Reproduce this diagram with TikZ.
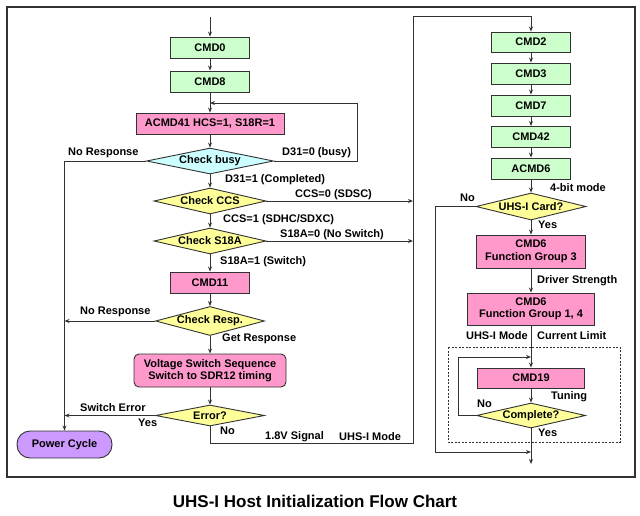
\documentclass[tikz,border=0pt]{standalone}
\usepackage{fontspec}
\setmainfont{Liberation Sans}
\usetikzlibrary{shapes.geometric,arrows.meta}

\definecolor{cmdgreen}{RGB}{204,255,204}
\definecolor{cmdpink}{RGB}{255,153,204}
\definecolor{askyellow}{RGB}{255,255,153}
\definecolor{askcyan}{RGB}{204,255,255}
\definecolor{pwrpurple}{RGB}{204,153,255}
\definecolor{linegray}{RGB}{50,50,50}

\tikzset{
  cmdbox/.style={draw=linegray, fill=cmdgreen, line width=0.9pt, inner sep=0pt,
    minimum width=79pt, minimum height=21pt},
  hostbox/.style={cmdbox, fill=cmdpink, align=center},
  decision/.style={diamond, aspect=4, draw=linegray, fill=askyellow, line width=0.9pt,
    inner sep=0pt, minimum width=110pt, minimum height=26pt},
  lbl/.style={inner sep=0pt, anchor=west},
  flow/.style={draw=linegray, line width=0.9pt}
}

\begin{document}
\begin{tikzpicture}[
  x=1pt, y=-1pt,
  >={Stealth[length=5pt,width=4pt]},
  font=\fontsize{11}{12.5}\selectfont\bfseries
]
  \useasboundingbox (0,0) rectangle (640,515);
  \draw[linegray, line width=1.2pt] (7,7) rectangle (635,477);

  % Left column: start, voltage switch request
  \coordinate (start) at (210,17);
  \node[cmdbox] (cmd0) at (210,47.5) {CMD0};
  \node[cmdbox] (cmd8) at (210,81.5) {CMD8};
  \coordinate (busyloop) at (210,103);
  \node[hostbox, minimum width=148pt] (acmd41) at (210,123.5) {ACMD41 HCS=1, S18R=1};
  \node[decision, fill=askcyan, minimum width=127pt] (busy) at (210,161) {Check busy};
  \node[decision, minimum width=112pt] (ccs) at (210,201) {Check CCS};
  \node[decision, minimum width=112pt] (s18a) at (210,241) {Check S18A};
  \node[hostbox] (cmd11) at (210,282.5) {CMD11};
  \node[decision, minimum width=109pt, minimum height=29pt] (resp) at (210,321) {Check Resp.};
  \node[hostbox, rounded corners=5pt, minimum width=152pt, minimum height=33pt] (vss) at (210,370.5)
    {Voltage Switch Sequence\\Switch to SDR12 timing};
  \node[decision, minimum width=109pt, minimum height=21pt] (err) at (210,415.5) {Error?};
  \node[draw=linegray, fill=pwrpurple, line width=0.9pt, rounded corners=13pt,
    minimum width=95pt, minimum height=27pt, inner sep=0pt] (power) at (64.5,444.5) {Power Cycle};

  % Right column: card identification and UHS-I setup
  \coordinate (rtop) at (413,16);
  \coordinate (rbot) at (413,443);
  \node[cmdbox, minimum height=20pt] (cmd2) at (531,42) {CMD2};
  \node[cmdbox] (cmd3) at (531,73.5) {CMD3};
  \node[cmdbox] (cmd7) at (531,105.5) {CMD7};
  \node[cmdbox] (cmd42) at (531,137) {CMD42};
  \node[cmdbox] (acmd6) at (531,168.5) {ACMD6};
  \node[decision, minimum height=27pt] (uhs) at (531,206.5) {UHS-I Card?};
  \node[hostbox, minimum width=109pt, minimum height=33pt] (fg3) at (531,251.5) {CMD6\\Function Group 3};
  \node[hostbox, minimum width=127pt, minimum height=32pt] (fg14) at (531,309) {CMD6\\Function Group 1, 4};
  \draw[linegray, line width=0.8pt, dash pattern=on 2pt off 1.5pt] (448,347) rectangle (620,442);
  \coordinate (tuneloop) at (531,357);
  \node[hostbox, minimum width=107pt, minimum height=20pt] (cmd19) at (531,378) {CMD19};
  \node[decision, minimum width=109pt, minimum height=25pt] (comp) at (531,415.5) {Complete?};
  \coordinate (skip) at (531,452);
  \coordinate (finish) at (531,464);

  % connectors, left
  \draw[flow,->] (start) -- (cmd0);
  \draw[flow,->] (cmd0) -- (cmd8);
  \draw[flow,->] (cmd8) -- (acmd41);
  \draw[flow,->] (acmd41) -- (busy);
  \draw[flow,->] (busy.east) -- ++(83,0) |- (busyloop);
  \draw[flow,->] (busy.west) -| (power.north);
  \draw[flow,->] (busy) -- (ccs);
  \draw[flow,->] (ccs.east) -- (ccs.east -| rtop);
  \draw[flow,->] (ccs) -- (s18a);
  \draw[flow,->] (s18a.east) -- (s18a.east -| rtop);
  \draw[flow,->] (s18a) -- (cmd11);
  \draw[flow,->] (cmd11) -- (resp);
  \draw[flow,->] (resp.west) -- (resp.west -| power.north);
  \draw[flow,->] (resp) -- (vss);
  \draw[flow,->] (vss) -- (err);
  \draw[flow,->] (err.west) -- (err.west -| power.north);
  \draw[flow,->] (err.south) |- (rbot) -- (rtop) -| (cmd2.north);

  % connectors, right
  \draw[flow,->] (cmd2) -- (cmd3);
  \draw[flow,->] (cmd3) -- (cmd7);
  \draw[flow,->] (cmd7) -- (cmd42);
  \draw[flow,->] (cmd42) -- (acmd6);
  \draw[flow,->] (acmd6) -- (uhs);
  \draw[flow,->] (uhs) -- (fg3);
  \draw[flow,->] (fg3) -- (fg14);
  \draw[flow,->] (fg14) -- (cmd19);
  \draw[flow,->] (cmd19) -- (comp);
  \draw[flow,->] (comp.west) -- ++(-18,0) |- (tuneloop);
  \draw[flow,->] (uhs.west) -- ++(-40,0) |- (skip);
  \draw[flow,->] (comp) -- (finish);

  % labels
  \node[lbl] (nrbusy) at (68,153) {No Response};
  \node[lbl] (lbusy) at (282,153) {D31=0 (busy)};
  \node[lbl] (ldone) at (225,180) {D31=1 (Completed)};
  \node[lbl] (lsdsc) at (295,195) {CCS=0 (SDSC)};
  \node[lbl] (lsdhc) at (223,220) {CCS=1 (SDHC/SDXC)};
  \node[lbl] (lnosw) at (280,235) {S18A=0 (No Switch)};
  \node[lbl] (lsw) at (220,262) {S18A=1 (Switch)};
  \node[lbl] (nrresp) at (80,312) {No Response};
  \node[lbl] (lget) at (222,339) {Get Response};
  \node[lbl] (lswerr) at (80,408) {Switch Error};
  \node[lbl] (lerryes) at (138,423) {Yes};
  \node[lbl] (lerrno) at (220,431) {No};
  \node[lbl] (lsig) at (265,437) {1.8V Signal};
  \node[lbl] (lmode) at (339,437) {UHS-I Mode};
  \node[lbl] (lbit) at (550,188) {4-bit mode};
  \node[lbl] (luhsno) at (460,198) {No};
  \node[lbl] (luhsyes) at (538,225) {Yes};
  \node[lbl] (ldrv) at (537,281) {Driver Strength};
  \node[lbl, anchor=east] (lmode2) at (528,336) {UHS-I Mode};
  \node[lbl] (lcur) at (537,336) {Current Limit};
  \node[lbl] (ltune) at (551,397) {Tuning};
  \node[lbl] (lcompno) at (477,404) {No};
  \node[lbl] (lcompyes) at (538,433) {Yes};

  % caption
  \node[font=\fontsize{17}{19}\selectfont\bfseries] (title) at (315,501) {UHS-I Host Initialization Flow Chart};
\end{tikzpicture}
\end{document}
